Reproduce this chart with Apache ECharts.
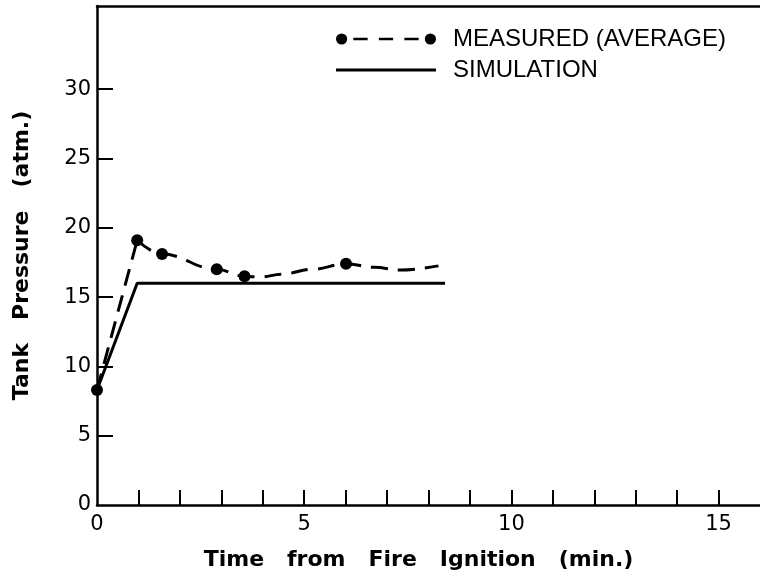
<!DOCTYPE html>
<html>
<head>
<meta charset="utf-8">
<script src="https://cdn.jsdelivr.net/npm/echarts@6/dist/echarts.min.js"></script>
<style>
html, body { margin: 0; padding: 0; background: #fff; }
#chart { width: 760px; height: 578px; }
</style>
</head>
<body>
<div id="chart"></div>
<script>
// measured points (time in min, pressure in atm)
const measuredTime = [0, 0.97, 1.57, 2.89, 3.56, 6.01];
const measuredPressure = [8.3, 19.1, 18.1, 17.0, 16.5, 17.4];
// dashed trend line through the measured points
const trendTime = [0.97, 1.57, 2.89, 3.56, 3.94, 4.46, 5.18, 6.01, 6.69, 7.33, 8.24];
const trendPressure = [19.1, 18.1, 17.0, 16.5, 16.45, 16.65, 17.0, 17.4, 17.15, 16.95, 17.25];
// simulation
const simTime = [0, 0.97, 8.4];
const simPressure = [8.3, 16.0, 16.0];
// ticks
const xTicks = [1, 2, 3, 4, 5, 6, 7, 8, 9, 10, 11, 12, 13, 14, 15];
const xLabels = [0, 5, 10, 15];
const yTicks = [5, 10, 15, 20, 25, 30];
const yLabels = [0, 5, 10, 15, 20, 25, 30];

const zip = (xs, ys) => xs.map((x, i) => [x, ys[i]]);

const chart = echarts.init(document.getElementById('chart'));
const dash = [17, 10];
const titleFont = { fontFamily: 'DejaVu Sans', fontWeight: 'bold', fontSize: 22, color: '#000' };
const tickFont = { fontFamily: 'DejaVu Sans', fontSize: 21, color: '#000' };
const option = {
  animation: false,
  backgroundColor: '#fff',
  grid: { left: 97, top: 6, width: 669.6, height: 499 },
  legend: {
    orient: 'vertical',
    left: 331,
    top: 22,
    itemGap: 7,
    itemWidth: 100,
    itemHeight: 12,
    symbolKeepAspect: true,
    itemStyle: { borderWidth: 0 },
    textStyle: { fontFamily: 'Liberation Sans', fontSize: 24, color: '#000', padding: [0, 0, 0, 12] },
    data: [
      { name: 'MEASURED (AVERAGE)', icon: 'path://M1,6a5.5,5.5 0 1,0 11,0a5.5,5.5 0 1,0 -11,0ZM18,4.8h14v2.4h-14ZM43,4.8h14v2.4h-14ZM68,4.8h14v2.4h-14ZM88,6a5.5,5.5 0 1,0 11,0a5.5,5.5 0 1,0 -11,0Z' },
      { name: 'SIMULATION', icon: 'path://M0,0h100v3h-100Z' }
    ]
  },
  xAxis: [{
    type: 'value',
    min: 0, max: 16,
    name: 'Time   from   Fire   Ignition   (min.)',
    nameLocation: 'middle',
    nameGap: 44,
    nameTextStyle: Object.assign({ padding: [0, 20, 0, 0] }, titleFont),
    axisLine: { lineStyle: { color: '#000', width: 2.5 } },
    axisTick: { inside: true, length: 15, customValues: xTicks, lineStyle: { color: '#000', width: 2 } },
    axisLabel: Object.assign({ customValues: xLabels, margin: 9 }, tickFont),
    splitLine: { show: false }
  }, {
    type: 'value',
    position: 'top',
    min: 0, max: 16,
    axisLine: { show: true, onZero: false, lineStyle: { color: '#000', width: 2.5 } },
    axisTick: { show: false },
    axisLabel: { show: false },
    splitLine: { show: false }
  }],
  yAxis: {
    type: 'value',
    min: 0, max: 36,
    name: 'Tank   Pressure   (atm.)',
    nameLocation: 'middle',
    nameGap: 64,
    nameTextStyle: titleFont,
    axisLine: { show: true, lineStyle: { color: '#000', width: 2.5 } },
    axisTick: { inside: true, length: 16, customValues: yTicks, lineStyle: { color: '#000', width: 2 } },
    axisLabel: Object.assign({ customValues: yLabels, margin: 6 }, tickFont),
    splitLine: { show: false }
  },
  series: [
    {
      name: 'MEASURED (AVERAGE)',
      type: 'line',
      data: zip(measuredTime.slice(0, 2), measuredPressure.slice(0, 2)),
      showSymbol: false,
      lineStyle: { color: '#000', width: 3, type: dash },
      itemStyle: { color: '#000' }
    },
    {
      name: 'MEASURED (AVERAGE)',
      type: 'line',
      data: zip(trendTime, trendPressure),
      smooth: 0.4,
      smoothMonotone: 'x',
      showSymbol: false,
      lineStyle: { color: '#000', width: 3, type: dash },
      itemStyle: { color: '#000' }
    },
    {
      name: 'MEASURED (AVERAGE)',
      type: 'scatter',
      data: zip(measuredTime, measuredPressure),
      symbolSize: 12,
      itemStyle: { color: '#000', opacity: 1 },
      z: 5
    },
    {
      name: 'SIMULATION',
      type: 'line',
      data: zip(simTime, simPressure),
      showSymbol: false,
      lineStyle: { color: '#000', width: 3 },
      itemStyle: { color: '#000' }
    }
  ]
};
chart.setOption(option);
</script>
</body>
</html>
